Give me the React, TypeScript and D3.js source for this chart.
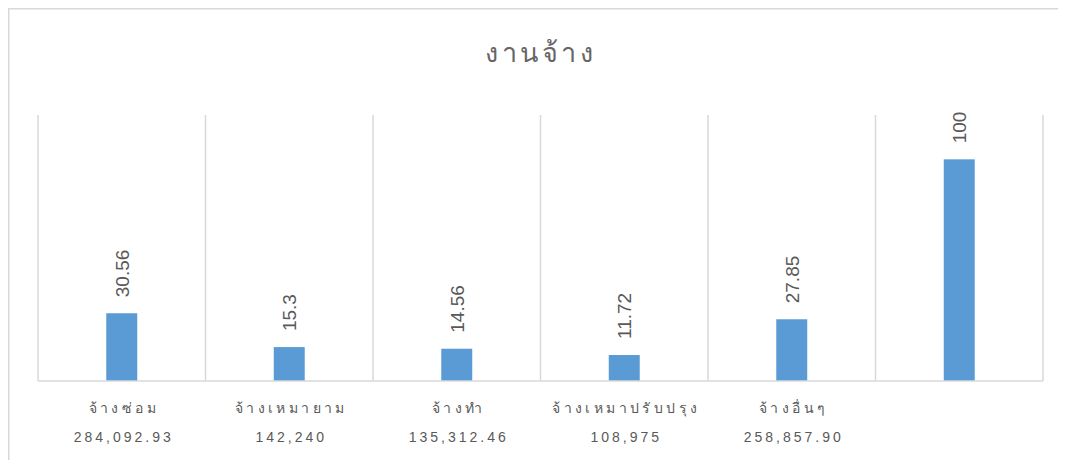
import * as d3 from "d3";
import React, { useEffect, useRef } from "react";

const width = 1058;
const height = 452;

const categories = ["จ้างซ่อม", "จ้างเหมายาม", "จ้างทำ", "จ้างเหมาปรับปรุง", "จ้างอื่นๆ", ""];
const amounts = ["284,092.93", "142,240", "135,312.46", "108,975", "258,857.90", ""];
const percents = [30.56, 15.3, 14.56, 11.72, 27.85, 100];
const title = "งานจ้าง";

export default function App() {
  const holderRef = useRef<HTMLDivElement | null>(null);

  useEffect(() => {
    const holder = holderRef.current;
    if (!holder || holder.hasChildNodes()) return;
    // the frame runs off the right edge of the window
    document.body.style.overflow = "hidden";

    const margin = { top: 107, right: 23, bottom: 79, left: 30 };
    const grid = "#d9d9d9";
    const textColor = "#595959";

    const svg = d3
      .select(holder)
      .append("svg")
      .attr("width", width)
      .attr("height", height)
      .attr("style", "display: block; font-family: 'Liberation Sans', Arial, sans-serif;");

    // outer frame: only the top and left edges are inside the picture
    svg
      .append("path")
      .attr("d", `M0.75,${height}V0.75H${width}`)
      .attr("fill", "none")
      .attr("stroke", grid)
      .attr("stroke-width", 1.5);

    const x = d3
      .scaleBand()
      .domain(categories.map((d, i) => String(i)))
      .range([margin.left, width - margin.right])
      .padding(0);

    const y = d3
      .scaleLinear()
      .domain([0, 120])
      .range([height - margin.bottom, margin.top]);

    // vertical gridlines between categories
    const bounds = categories.map((d, i) => x(String(i))!).concat([width - margin.right]);
    svg
      .append("g")
      .attr("stroke", grid)
      .attr("stroke-width", 1.5)
      .selectAll()
      .data(bounds)
      .join("line")
      .attr("x1", (d) => d)
      .attr("x2", (d) => d)
      .attr("y1", y(120))
      .attr("y2", y(0));

    const barW = x.bandwidth() * 0.185;

    svg
      .append("g")
      .attr("fill", "#5b9bd5")
      .selectAll()
      .data(percents)
      .join("rect")
      .attr("x", (d, i) => x(String(i))! + x.bandwidth() / 2 - barW / 2)
      .attr("y", (d) => y(d))
      .attr("width", barW)
      .attr("height", (d) => y(0) - y(d));

    // x axis line
    svg
      .append("line")
      .attr("x1", margin.left)
      .attr("x2", width - margin.right)
      .attr("y1", y(0))
      .attr("y2", y(0))
      .attr("stroke", grid)
      .attr("stroke-width", 1.5);

    // rotated value labels
    svg
      .append("g")
      .selectAll()
      .data(percents)
      .join("text")
      .attr(
        "transform",
        (d, i) => `translate(${x(String(i))! + x.bandwidth() / 2 + 7},${y(d) - 16}) rotate(-90)`
      )
      .attr("fill", textColor)
      .attr("font-size", 19)
      .text((d) => String(d));

    // category labels and amounts
    const label = svg
      .append("g")
      .attr("fill", textColor)
      .attr("text-anchor", "middle")
      .selectAll()
      .data(categories)
      .join("g")
      .attr("transform", (d, i) => `translate(${x(String(i))! + x.bandwidth() / 2 + 2},0)`);

    label
      .append("text")
      .attr("y", 405)
      .attr("font-size", 14)
      .attr("letter-spacing", 3.4)
      .text((d) => d);

    label
      .append("text")
      .attr("y", 434)
      .attr("font-size", 14)
      .attr("letter-spacing", 3)
      .text((d, i) => amounts[i]);

    svg
      .append("text")
      .attr("x", (margin.left + width - margin.right) / 2)
      .attr("y", 54)
      .attr("text-anchor", "middle")
      .attr("fill", "#666")
      .attr("font-size", 27)
      .attr("letter-spacing", 3.5)
      .text(title);
  }, []);

  return <div ref={holderRef} />;
}
